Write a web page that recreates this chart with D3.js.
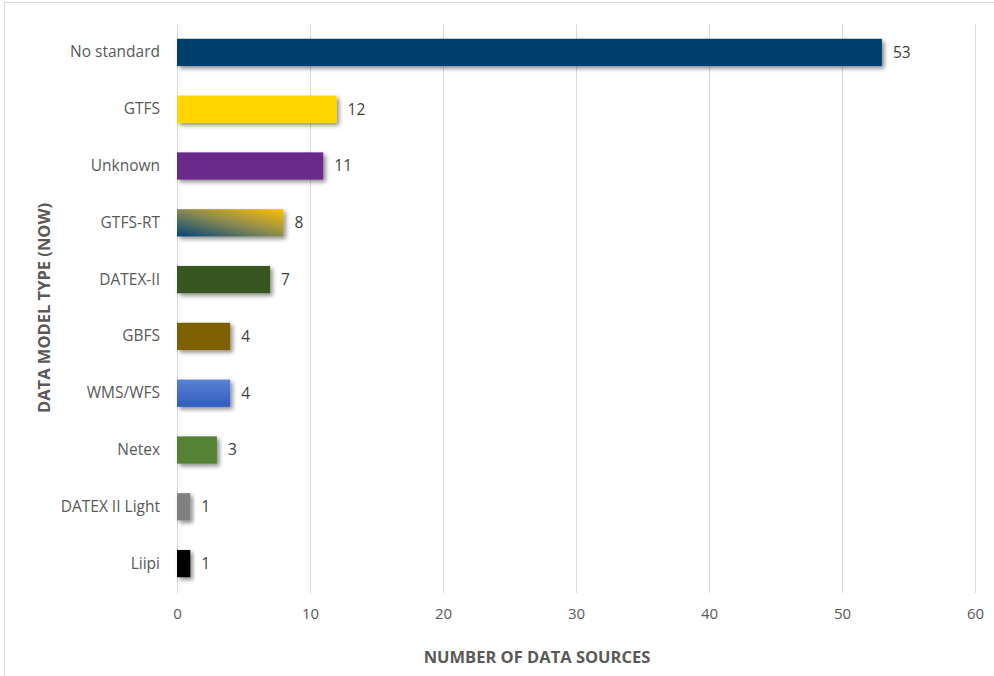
<!DOCTYPE html>
<html><head><meta charset="utf-8">
<script src="https://cdn.jsdelivr.net/npm/d3@7"></script>
<style>body{margin:0;background:#fff}svg text{font-family:"Open Sans",sans-serif}</style>
</head><body>
<svg id="c" width="994" height="676"></svg>
<script>
const categories = ["No standard","GTFS","Unknown","GTFS-RT","DATEX-II","GBFS","WMS/WFS","Netex","DATEX II Light","Liipi"];
const values = [53,12,11,8,7,4,4,3,1,1];
const colors = ["#003F6D","#FFD600","#6A2A89","url(#gradRT)","#385723","#7F6000","url(#gradWMS)","#548235","#808080","#000000"];
const xTicks = [0,10,20,30,40,50,60];

const svg = d3.select("#c");
const defs = svg.append("defs");
const g1 = defs.append("linearGradient").attr("id","gradRT").attr("x1","0").attr("y1","1").attr("x2","1").attr("y2","0");
g1.append("stop").attr("offset","0").attr("stop-color","#00447A");
g1.append("stop").attr("offset","0.5").attr("stop-color","#8A8A50");
g1.append("stop").attr("offset","1").attr("stop-color","#FFC000");
const g2 = defs.append("linearGradient").attr("id","gradWMS").attr("x1","0").attr("y1","0").attr("x2","0").attr("y2","1");
g2.append("stop").attr("offset","0").attr("stop-color","#5A82D2");
g2.append("stop").attr("offset","1").attr("stop-color","#2F5CC0");
const f = defs.append("filter").attr("id","shadow").attr("x","-20%").attr("y","-30%").attr("width","150%").attr("height","180%");
f.append("feDropShadow").attr("dx",2.5).attr("dy",2.5).attr("stdDeviation",2).attr("flood-color","#000").attr("flood-opacity",0.45);

svg.append("rect").attr("x",4.5).attr("y",2.5).attr("width",1000).attr("height",700)
  .attr("fill","#fff").attr("stroke","#d9d9d9");

const x = d3.scaleLinear().domain([0,60]).range([177,975]);
const y = d3.scaleBand().domain(categories).range([24,592]).paddingInner(0.52).paddingOuter(0.26);

svg.append("g").selectAll("line").data(xTicks).join("line")
  .attr("x1",d=>x(d)+0.5).attr("x2",d=>x(d)+0.5).attr("y1",24).attr("y2",593)
  .attr("stroke","#d9d9d9").attr("stroke-width",1);

const xAxis = svg.append("g").attr("transform","translate(0,593)")
  .call(d3.axisBottom(x).tickValues(xTicks).tickSize(0).tickPadding(15));
xAxis.select(".domain").remove();
xAxis.selectAll("text").attr("fill","#595959").attr("font-size",15);

const yAxis = svg.append("g").attr("transform","translate(177,0)")
  .call(d3.axisLeft(y).tickSize(0).tickPadding(17));
yAxis.select(".domain").remove();
yAxis.selectAll("text").attr("fill","#595959").attr("font-size",15.5);

svg.append("g").selectAll("rect").data(categories).join("rect")
  .attr("x",x(0)).attr("y",d=>y(d)).attr("height",y.bandwidth())
  .attr("width",(d,i)=>x(values[i])-x(0)).attr("fill",(d,i)=>colors[i])
  .attr("filter","url(#shadow)");

svg.append("g").selectAll("text").data(categories).join("text")
  .attr("x",(d,i)=>x(values[i])+11).attr("y",d=>y(d)+y.bandwidth()/2)
  .attr("dy","0.35em").attr("fill","#404040").attr("font-size",15.5)
  .text((d,i)=>values[i]);

svg.append("text").attr("x",537).attr("y",663).attr("text-anchor","middle")
  .attr("fill","#595959").attr("font-size",16.5).attr("font-weight","bold")
  .text("NUMBER OF DATA SOURCES");
svg.append("text").attr("transform","translate(50,308) rotate(-90)").attr("text-anchor","middle")
  .attr("fill","#595959").attr("font-size",16.5).attr("font-weight","bold")
  .text("DATA MODEL TYPE (NOW)");
</script>
</body></html>
